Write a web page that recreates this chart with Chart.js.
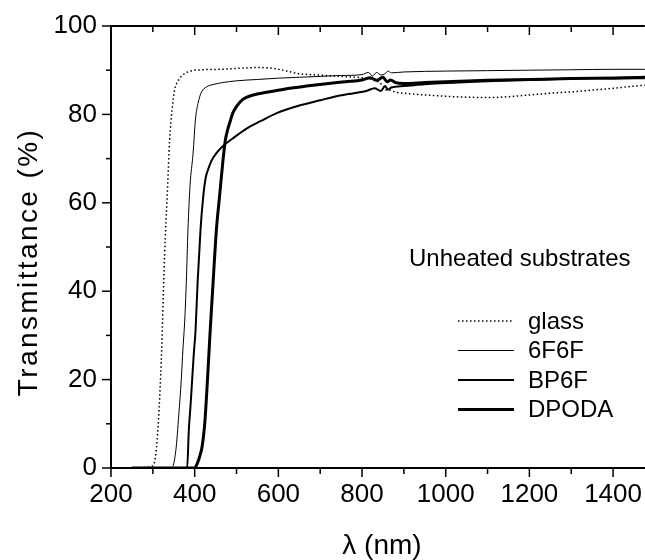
<!DOCTYPE html>
<html lang="en">
  <head>
    <meta charset="UTF-8" />
    <script src="https://cdn.jsdelivr.net/npm/chart.js@4"></script>
    <style>
      body { margin: 0; background: #fff; }
      #wrap { width: 645px; height: 560px; }
    </style>
  </head>
  <body>
    <div id="wrap"><canvas id="transChart"></canvas></div>

    <script>
      // Transmittance spectra (wavelength in nm, T in %)
      const glassL = [250, 300, 310, 320, 328, 335, 340, 346, 352, 360, 370, 390, 420, 460, 500, 550, 590, 620, 650, 700, 750, 800, 820, 835, 850, 858, 865, 880, 900, 950, 1000, 1050, 1100, 1150, 1200, 1250, 1300, 1350, 1400, 1450, 1476];
      const glassT = [0, 0.5, 6, 24, 48, 63, 74, 81, 85.5, 87.5, 88.8, 89.8, 90.1, 90.2, 90.4, 90.6, 90.4, 89.8, 89.2, 88.9, 88.6, 88.3, 88.0, 87.5, 86.5, 85.5, 85.5, 85.0, 84.8, 84.4, 84.1, 83.9, 83.8, 84.0, 84.4, 84.8, 85.1, 85.5, 85.9, 86.4, 86.6];

      const f6f6L = [250, 345, 355, 362, 368, 372, 376, 380, 384, 389, 396, 402, 408, 416, 428, 446, 467, 500, 550, 600, 650, 700, 750, 800, 815, 825, 835, 845, 855, 862, 870, 900, 1000, 1100, 1200, 1300, 1400, 1476];
      const f6f6T = [0, 0, 4, 12, 20, 27, 33, 42, 54, 64, 71, 79, 82.5, 85, 86.2, 86.8, 87.2, 87.6, 87.9, 88.2, 88.4, 88.6, 88.8, 89.0, 89.5, 88.7, 89.5, 88.9, 89.2, 89.8, 89.4, 89.6, 89.8, 89.9, 90.0, 90.1, 90.2, 90.2];

      const bp6fL = [250, 382, 386, 390, 394, 398, 402, 407, 414, 420, 426, 432, 440, 450, 467, 490, 524, 560, 596, 650, 700, 739, 780, 810, 830, 845, 855, 862, 870, 900, 950, 1000, 1100, 1200, 1300, 1400, 1476];
      const bp6fT = [0, 0, 8.6, 14, 20, 26, 31, 42, 54, 61, 65.5, 67.5, 69.5, 71, 72.8, 74.5, 76.8, 78.6, 80.3, 82.0, 83.2, 84.1, 84.8, 85.3, 85.9, 85.3, 86.4, 85.6, 86.1, 86.4, 86.8, 87.1, 87.5, 87.8, 88.1, 88.3, 88.5];

      const dpodaL = [250, 400, 406, 412, 418, 424, 430, 437, 444, 452, 460, 467, 473, 479, 485, 491, 500, 515, 540, 572, 620, 667, 720, 760, 800, 820, 835, 850, 860, 868, 880, 900, 950, 1000, 1100, 1200, 1300, 1400, 1476];
      const dpodaT = [0, 0, 1, 2.6, 5, 10, 19, 31, 42, 54, 62, 69, 74, 76.6, 78.5, 80.3, 81.8, 83.4, 84.4, 85.0, 85.8, 86.4, 87.0, 87.4, 87.8, 88.3, 87.7, 88.4, 87.4, 87.8, 87.2, 87.0, 87.2, 87.4, 87.7, 87.9, 88.1, 88.2, 88.3];

      const seriesNames = ["glass", "6F6F", "BP6F", "DPODA"];
      const xTicks = [200, 300, 400, 500, 600, 700, 800, 900, 1000, 1100, 1200, 1300, 1400];
      const xTickLabels = [200, 400, 600, 800, 1000, 1200, 1400];
      const yTicks = [0, 10, 20, 30, 40, 50, 60, 70, 80, 90, 100];
      const yTickLabels = [0, 20, 40, 60, 80, 100];

      const FONT = "'Liberation Sans', Arial, sans-serif";

      const toPoints = (xs, ys) => xs.map((x, i) => ({ x: x, y: ys[i] }));

      // frame, minor ticks, titles and the in-plot legend
      const decor = {
        id: "decor",
        afterDraw(chart) {
          const { ctx, chartArea: a, scales } = chart;
          const x = scales.x, y = scales.y;
          ctx.save();
          ctx.strokeStyle = "#000";
          ctx.fillStyle = "#000";

          // top border
          ctx.lineWidth = 2;
          ctx.beginPath();
          ctx.moveTo(a.left, a.top);
          ctx.lineTo(a.right, a.top);
          ctx.stroke();

          // ticks
          ctx.lineWidth = 1.5;
          x.ticks.forEach((t) => {
            const px = x.getPixelForValue(t.value);
            const len = xTickLabels.includes(t.value) ? 9 : 6;
            ctx.beginPath();
            ctx.moveTo(px, a.bottom);
            ctx.lineTo(px, a.bottom + len);
            ctx.moveTo(px, a.top);
            ctx.lineTo(px, a.top + len);
            ctx.stroke();
          });
          y.ticks.forEach((t) => {
            const py = y.getPixelForValue(t.value);
            const len = yTickLabels.includes(t.value) ? 9 : 5;
            ctx.beginPath();
            ctx.moveTo(a.left, py);
            ctx.lineTo(a.left - len, py);
            ctx.stroke();
          });

          // axis titles
          ctx.font = "28px " + FONT;
          ctx.textAlign = "center";
          ctx.textBaseline = "middle";
          ctx.fillText("\u03bb (nm)", 382, 546);
          ctx.save();
          ctx.translate(29, 262);
          ctx.rotate(-Math.PI / 2);
          ctx.letterSpacing = "2.4px";
          ctx.fillText("Transmittance (%)", 0, 0);
          ctx.restore();

          // legend
          ctx.font = "24px " + FONT;
          ctx.textAlign = "left";
          ctx.fillText("Unheated substrates", 409, 259);
          chart.data.datasets.forEach((ds, i) => {
            const ly = 321 + i * 29.5;
            ctx.save();
            ctx.lineWidth = ds.borderWidth;
            ctx.setLineDash(ds.borderDash || []);
            ctx.strokeStyle = ds.borderColor;
            ctx.beginPath();
            ctx.moveTo(458, ly);
            ctx.lineTo(514, ly);
            ctx.stroke();
            ctx.restore();
            ctx.fillText(ds.label, 528, ly + 1);
          });
          ctx.restore();
        },
      };

      const ctx = document.getElementById("transChart").getContext("2d");
      const transChart = new Chart(ctx, {
        type: "line",
        data: {
          datasets: [
            {
              label: seriesNames[0],
              data: toPoints(glassL, glassT),
              borderColor: "#000",
              borderWidth: 1.5,
              borderDash: [1.5, 2.5],
            },
            {
              label: seriesNames[1],
              data: toPoints(f6f6L, f6f6T),
              borderColor: "#000",
              borderWidth: 1,
            },
            {
              label: seriesNames[2],
              data: toPoints(bp6fL, bp6fT),
              borderColor: "#000",
              borderWidth: 2,
            },
            {
              label: seriesNames[3],
              data: toPoints(dpodaL, dpodaT),
              borderColor: "#000",
              borderWidth: 3,
            },
          ],
        },
        options: {
          responsive: true,
          maintainAspectRatio: false,
          animation: false,
          events: [],
          layout: { padding: { top: 26, right: 0, left: 0, bottom: 0 } },
          elements: {
            point: { radius: 0 },
            line: { cubicInterpolationMode: "monotone", fill: false },
          },
          plugins: {
            legend: { display: false },
            tooltip: { enabled: false },
          },
          scales: {
            x: {
              type: "linear",
              min: 200,
              max: 1476,
              grid: { display: false },
              border: { display: true, color: "#000", width: 2 },
              afterBuildTicks: (scale) => {
                scale.ticks = xTicks.map((v) => ({ value: v }));
              },
              afterFit: (scale) => {
                scale.height = 92;
              },
              ticks: {
                autoSkip: false,
                maxRotation: 0,
                padding: 3,
                color: "#000",
                font: { family: FONT, size: 26 },
                callback: (v) => (xTickLabels.includes(v) ? v : ""),
              },
            },
            y: {
              min: 0,
              max: 100,
              grid: { display: false },
              border: { display: true, color: "#000", width: 2 },
              afterBuildTicks: (scale) => {
                scale.ticks = yTicks.map((v) => ({ value: v }));
              },
              afterFit: (scale) => {
                scale.width = 111;
              },
              ticks: {
                autoSkip: false,
                padding: 6,
                color: "#000",
                font: { family: FONT, size: 26 },
                callback: (v) => (yTickLabels.includes(v) ? v : ""),
              },
            },
          },
        },
        plugins: [decor],
      });
    </script>
  </body>
</html>
